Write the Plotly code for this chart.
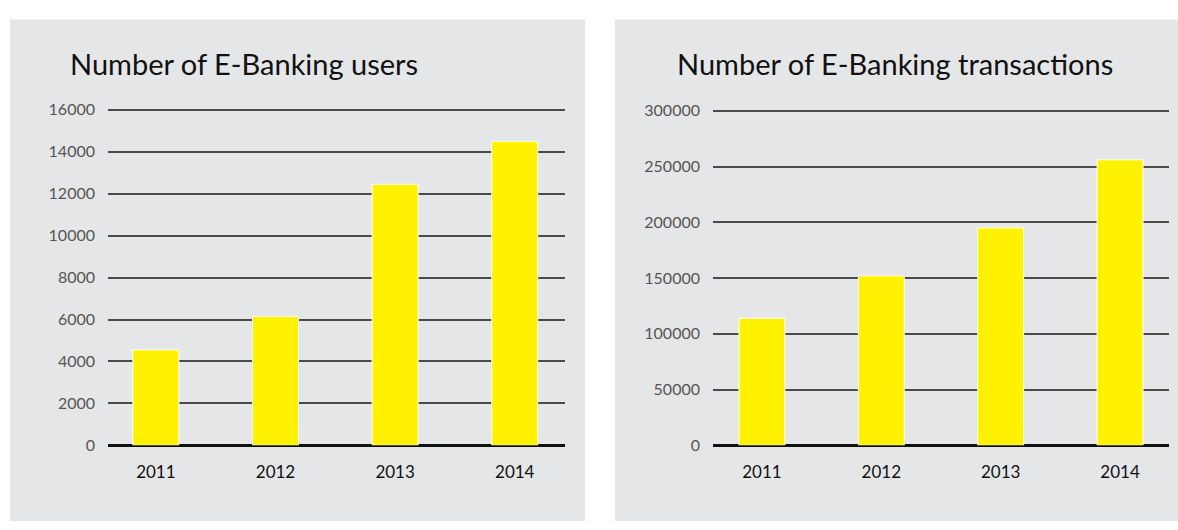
import plotly.graph_objects as go

years = ["2011", "2012", "2013", "2014"]
users = [4550, 6150, 12450, 14500]
transactions = [114000, 152000, 195000, 256000]

user_ticks = [0, 2000, 4000, 6000, 8000, 10000, 12000, 14000, 16000]
tx_ticks = [0, 50000, 100000, 150000, 200000, 250000, 300000]

titles = ["Number of E-Banking users", "Number of E-Banking transactions"]

W, H = 1178, 530
PANEL = "#e5e6e8"
BAR = "#fff200"
FONT = "Lato"

fig = go.Figure()

fig.add_trace(go.Bar(
    x=years, y=users, xaxis="x", yaxis="y", width=0.385,
    marker=dict(color=BAR, line=dict(color="white", width=1)),
    showlegend=False, hoverinfo="x+y",
))
fig.add_trace(go.Bar(
    x=years, y=transactions, xaxis="x2", yaxis="y2", width=0.385,
    marker=dict(color=BAR, line=dict(color="white", width=1)),
    showlegend=False, hoverinfo="x+y",
))

# grey background cards behind each chart
fig.add_shape(type="rect", xref="paper", yref="paper",
              x0=10 / W, x1=585 / W, y0=0, y1=1 - 13 / H,
              fillcolor=PANEL, line_width=0, layer="below")
fig.add_shape(type="rect", xref="paper", yref="paper",
              x0=615 / W, x1=1.0, y0=0, y1=1 - 13 / H,
              fillcolor=PANEL, line_width=0, layer="below")

common_y = dict(
    showgrid=True, gridcolor="#4a4a4a", gridwidth=1.5,
    zeroline=True, zerolinecolor="#111111", zerolinewidth=3,
    showline=False, ticks="", ticklabelstandoff=12,
    tickfont=dict(family=FONT, size=16, color="#555555"),
)
common_x = dict(
    type="category", showgrid=False, zeroline=False, showline=False,
    ticks="", ticklabelstandoff=15,
    tickfont=dict(family=FONT, size=17, color="#111111"),
)

y0 = 1 - 452 / H
px_user = (452 - 106) / 16000  # pixels per unit on the users axis
px_tx = (452 - 107) / 300000
top_pad = 3  # extra pixels so the top gridline stays inside the plot area
fig.update_layout(
    width=W, height=H,
    margin=dict(l=0, r=0, t=0, b=0),
    paper_bgcolor="white", plot_bgcolor="rgba(0,0,0,0)",
    xaxis=dict(common_x, domain=[108 / W, 565 / W], range=[-0.40, 3.42], anchor="y"),
    yaxis=dict(common_y, domain=[y0, 1 - (106 - top_pad) / H],
               range=[0, 16000 + top_pad / px_user],
               tickvals=user_ticks, ticktext=[str(v) for v in user_ticks], anchor="x"),
    xaxis2=dict(common_x, domain=[713 / W, 1169 / W], range=[-0.41, 3.41], anchor="y2"),
    yaxis2=dict(common_y, domain=[y0, 1 - (107 - top_pad) / H],
                range=[0, 300000 + top_pad / px_tx],
                tickvals=tx_ticks, ticktext=[str(v) for v in tx_ticks], anchor="x2"),
    annotations=[
        dict(text=titles[0], xref="paper", yref="paper", x=68 / W, y=1 - 58 / H,
             xanchor="left", yanchor="middle", showarrow=False,
             font=dict(family=FONT, size=29, color="#111111")),
        dict(text=titles[1], xref="paper", yref="paper", x=675 / W, y=1 - 58 / H,
             xanchor="left", yanchor="middle", showarrow=False,
             font=dict(family=FONT, size=29, color="#111111")),
    ],
)

fig.write_html("out.html")
